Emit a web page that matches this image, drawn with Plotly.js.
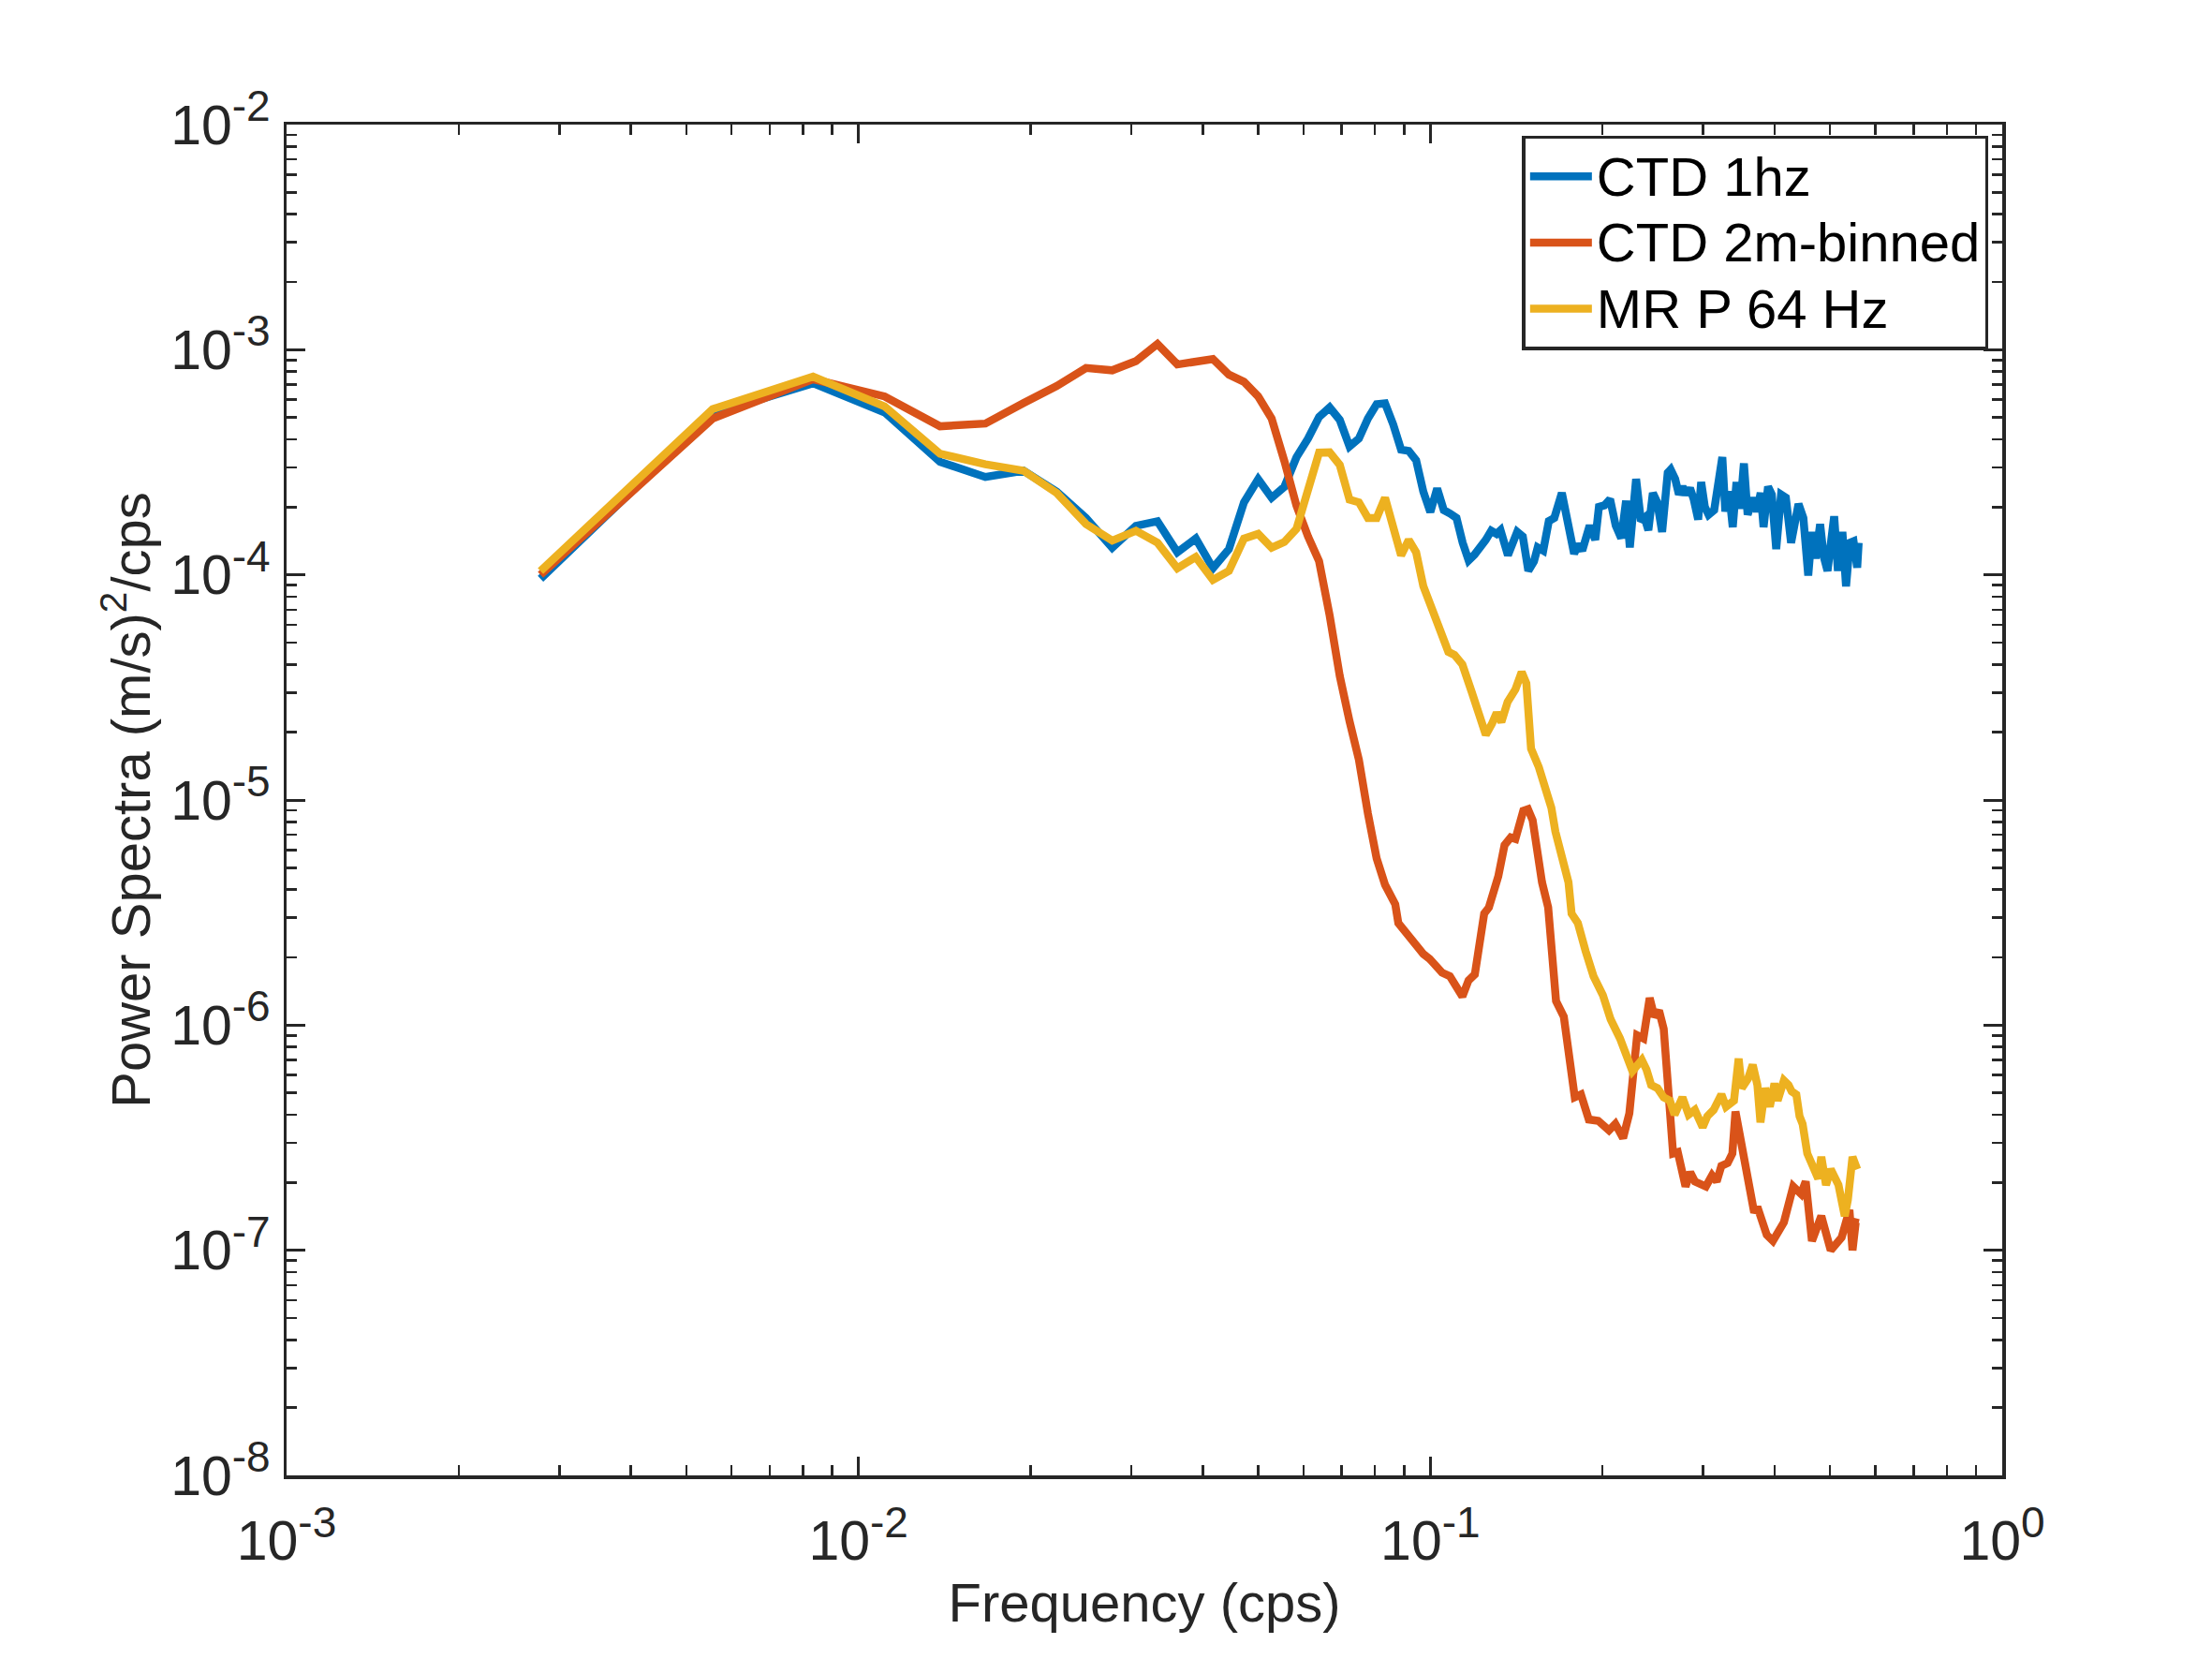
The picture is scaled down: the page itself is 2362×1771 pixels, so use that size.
<!DOCTYPE html>
<html>
<head>
<meta charset="utf-8">
<script src="https://cdn.plot.ly/plotly-3.0.1.min.js"></script>
<style>
	html, body { margin: 0; padding: 0; background: #fff; }
	#chart { width: 2362px; height: 1771px; }
</style>
</head>
<body>
<div id="chart"></div>
<script>
// frequency bins (cps) shared by the low-frequency end of all three spectra
const bin_freq = [0.00278, 0.00556, 0.00833, 0.01111, 0.01389, 0.01667, 0.01944, 0.02222, 0.02500, 0.02778,
	0.03056, 0.03333, 0.03611, 0.03889, 0.04167, 0.04444, 0.04722, 0.05000, 0.05278, 0.05556,
	0.05833, 0.06111, 0.06389, 0.06667, 0.06944, 0.07222, 0.07500, 0.07778, 0.08056, 0.08333,
	0.08611, 0.08889, 0.09167, 0.09444, 0.09722, 0.10000, 0.10278, 0.10556, 0.10833, 0.11111,
	0.11389, 0.11667, 0.11944, 0.12222, 0.12500, 0.12778, 0.13056];

// CTD 1hz
const ctd1_low = [9.6e-5, 5.2e-4, 7.1e-4, 5.27e-4, 3.18e-4, 2.72e-4, 2.9e-4, 2.34e-4, 1.79e-4, 1.32e-4,
	1.65e-4, 1.73e-4, 1.26e-4, 1.45e-4, 1.07e-4, 1.3e-4, 2.1e-4, 2.66e-4, 2.2e-4, 2.46e-4,
	3.33e-4, 4.03e-4, 5.03e-4, 5.54e-4, 4.88e-4, 3.72e-4, 4.03e-4, 4.95e-4, 5.73e-4, 5.78e-4,
	4.66e-4, 3.6e-4, 3.55e-4, 3.23e-4, 2.34e-4, 1.9e-4, 2.42e-4, 1.94e-4, 1.87e-4, 1.79e-4,
	1.39e-4, 1.16e-4, 1.23e-4, 1.32e-4, 1.43e-4, 1.57e-4, 1.52e-4];
const ctd1_high_f = [0.13266, 0.13667, 0.14186, 0.14511, 0.14838, 0.15177, 0.15407, 0.15754, 0.16113, 0.16475,
	0.16980, 0.17362, 0.17840, 0.18159, 0.18435, 0.18993, 0.19427, 0.19715, 0.20165, 0.20620,
	0.21091, 0.21566, 0.21992, 0.22327, 0.22898, 0.23350, 0.23696, 0.24056, 0.24496, 0.24934,
	0.25426, 0.26009, 0.26315, 0.26796, 0.27203, 0.27606, 0.28024, 0.28450, 0.28872, 0.29398,
	0.29756, 0.30198, 0.30656, 0.31357, 0.32402, 0.32796, 0.33282, 0.33791, 0.34304, 0.34813,
	0.35342, 0.35879, 0.36686, 0.37242, 0.37809, 0.38255, 0.38953, 0.39543, 0.40252, 0.41048,
	0.41845, 0.42738, 0.43258, 0.44032, 0.44904, 0.45792, 0.46468, 0.47177, 0.48037, 0.48750,
	0.49488, 0.50240, 0.50830, 0.51603, 0.52545, 0.53322, 0.54134, 0.54955, 0.55772, 0.561];
const ctd1_high_p = [1.578e-4, 1.222e-4, 1.552e-4, 1.479e-4, 1.042e-4, 1.146e-4, 1.324e-4, 1.282e-4, 1.734e-4, 1.791e-4,
	2.312e-4, 1.734e-4, 1.242e-4, 1.368e-4, 1.282e-4, 1.656e-4, 1.432e-4, 2.004e-4, 2.037e-4, 2.168e-4,
	1.656e-4, 1.455e-4, 2.133e-4, 1.324e-4, 2.667e-4, 1.734e-4, 1.791e-4, 1.578e-4, 2.312e-4, 2.099e-4,
	1.552e-4, 2.844e-4, 2.938e-4, 2.667e-4, 2.275e-4, 2.466e-4, 2.275e-4, 2.427e-4, 2.168e-4, 1.762e-4,
	2.582e-4, 2.004e-4, 1.849e-4, 1.941e-4, 3.334e-4, 1.910e-4, 2.350e-4, 1.629e-4, 2.582e-4, 1.972e-4,
	3.126e-4, 1.849e-4, 2.203e-4, 1.910e-4, 2.312e-4, 1.629e-4, 2.466e-4, 2.275e-4, 1.303e-4, 2.275e-4,
	2.203e-4, 1.387e-4, 1.578e-4, 2.065e-4, 1.791e-4, 9.93e-5, 1.552e-4, 1.183e-4, 1.679e-4, 1.202e-4,
	1.042e-4, 1.409e-4, 1.820e-4, 1.042e-4, 1.552e-4, 8.89e-5, 1.387e-4, 1.409e-4, 1.076e-4, 1.387e-4];

// CTD 2m-binned
const ctd2_low = [1.0e-4, 4.95e-4, 7.4e-4, 6.2e-4, 4.57e-4, 4.7e-4, 5.8e-4, 6.9e-4, 8.3e-4, 8.1e-4,
	8.9e-4, 1.06e-3, 8.6e-4, 8.9e-4, 9.1e-4, 7.75e-4, 7.2e-4, 6.2e-4, 4.95e-4, 3.2e-4,
	2.03e-4, 1.48e-4, 1.15e-4, 6.6e-5, 3.55e-5, 2.24e-5, 1.51e-5, 8.7e-6, 5.5e-6, 4.2e-6];
const ctd2_high_f = [0.08683, 0.08791, 0.09129, 0.09722, 0.09971, 0.10483, 0.10817, 0.11377, 0.11663, 0.11962,
	0.12421, 0.12657, 0.13146, 0.13482, 0.13822, 0.14085, 0.14538, 0.14816, 0.15097, 0.15285,
	0.15677, 0.16071, 0.16588, 0.17115, 0.17888, 0.18339, 0.18928, 0.19655, 0.20533, 0.21059,
	0.21729, 0.22283, 0.22707, 0.22994, 0.23580, 0.24184, 0.24644, 0.25114, 0.25591, 0.25910,
	0.26574, 0.27081, 0.27940, 0.28472, 0.29013, 0.30323, 0.31086, 0.31678, 0.32282, 0.33103,
	0.33740, 0.34162, 0.34813, 0.35700, 0.36382, 0.36837, 0.37313, 0.38747, 0.39722, 0.41515,
	0.43107, 0.44480, 0.45327, 0.46484, 0.48269, 0.50126, 0.52387, 0.54050, 0.54729, 0.55437, 0.561];
const ctd2_high_p = [3.44e-6, 2.84e-6, 2.50e-6, 2.07e-6, 1.97e-6, 1.71e-6, 1.65e-6, 1.34e-6, 1.58e-6, 1.68e-6,
	3.13e-6, 3.33e-6, 4.58e-6, 6.31e-6, 6.82e-6, 6.71e-6, 8.95e-6, 9.10e-6, 8.13e-6, 6.50e-6,
	4.31e-6, 3.33e-6, 1.28e-6, 1.09e-6, 4.78e-7, 4.92e-7, 3.81e-7, 3.76e-7, 3.41e-7, 3.64e-7,
	3.15e-7, 4.06e-7, 6.56e-7, 9.02e-7, 8.73e-7, 1.32e-6, 1.09e-6, 1.16e-6, 9.61e-7, 5.97e-7,
	2.69e-7, 2.73e-7, 1.92e-7, 2.22e-7, 2.02e-7, 1.92e-7, 2.15e-7, 2.02e-7, 2.37e-7, 2.44e-7,
	2.69e-7, 4.13e-7, 3.15e-7, 2.37e-7, 1.78e-7, 1.47e-7, 1.56e-7, 1.17e-7, 1.10e-7, 1.33e-7,
	1.92e-7, 1.78e-7, 2.02e-7, 1.10e-7, 1.42e-7, 1.0e-7, 1.14e-7, 1.51e-7, 1.0e-7, 1.33e-7, 1.32e-7];

// MR P 64 Hz
const mr_low = [1.04e-4, 5.45e-4, 7.6e-4, 5.6e-4, 3.45e-4, 3.1e-4, 2.9e-4, 2.31e-4, 1.68e-4, 1.42e-4,
	1.57e-4, 1.39e-4, 1.07e-4, 1.2e-4, 9.5e-5, 1.04e-4, 1.45e-4, 1.52e-4, 1.32e-4, 1.4e-4,
	1.6e-4, 2.31e-4, 3.49e-4, 3.5e-4, 3.08e-4, 2.16e-4, 2.1e-4, 1.79e-4, 1.79e-4, 2.2e-4,
	1.57e-4, 1.22e-4, 1.43e-4, 1.26e-4, 8.9e-5, 7.3e-5];
const mr_high_f = [0.10287, 0.10752, 0.11022, 0.11377, 0.11815, 0.12189, 0.12502, 0.12816, 0.13061, 0.13311,
	0.13651, 0.14085, 0.14445, 0.14720, 0.14905, 0.15000, 0.15477, 0.15872, 0.16278, 0.16544,
	0.17115, 0.17440, 0.17659, 0.18110, 0.18686, 0.19288, 0.20030, 0.20666, 0.21459, 0.22009,
	0.22563, 0.23430, 0.23876, 0.24330, 0.24952, 0.25591, 0.26236, 0.26736, 0.27594, 0.28290,
	0.29013, 0.29935, 0.30505, 0.31284, 0.32282, 0.32894, 0.33957, 0.34603, 0.35036, 0.35933,
	0.36618, 0.37313, 0.37779, 0.38497, 0.39230, 0.39975, 0.40482, 0.41515, 0.42304, 0.42835,
	0.43649, 0.44215, 0.44765, 0.45617, 0.47678, 0.48269, 0.49190, 0.50126, 0.51720, 0.53042,
	0.53706, 0.54729, 0.55772];
const mr_high_p = [5.87e-5, 4.55e-5, 4.41e-5, 4.0e-5, 3.01e-5, 2.33e-5, 1.95e-5, 2.18e-5, 2.44e-5, 2.22e-5,
	2.73e-5, 3.10e-5, 3.70e-5, 3.30e-5, 2.33e-5, 1.69e-5, 1.40e-5, 1.12e-5, 9.25e-6, 7.24e-6,
	4.89e-6, 4.31e-6, 3.13e-6, 2.84e-6, 2.13e-6, 1.65e-6, 1.36e-6, 1.06e-6, 8.73e-7, 7.21e-7,
	6.25e-7, 7.0e-7, 6.35e-7, 5.42e-7, 5.25e-7, 4.78e-7, 4.62e-7, 4.0e-7, 4.78e-7, 4.0e-7,
	4.2e-7, 3.52e-7, 3.94e-7, 4.2e-7, 4.92e-7, 4.34e-7, 4.62e-7, 7.10e-7, 5.25e-7, 5.78e-7,
	6.67e-7, 5.42e-7, 3.70e-7, 5.25e-7, 4.34e-7, 5.51e-7, 4.62e-7, 5.68e-7, 5.42e-7, 5.08e-7,
	4.92e-7, 3.94e-7, 3.64e-7, 2.69e-7, 2.08e-7, 2.60e-7, 1.95e-7, 2.29e-7, 1.95e-7, 1.42e-7,
	1.67e-7, 2.60e-7, 2.29e-7];

const series_names = ["CTD 1hz", "CTD 2m-binned", "MR P 64 Hz"];
const series_colors = ["#0072BD", "#D95319", "#EDB120"];

// axis ticks, matlab style: decade labels with a larger superscript
const sup = e => `10<sup><span style="font-size:46px">${e}</span></sup>`;
const x_tickvals = [0.001, 0.01, 0.1, 1];
const x_ticktext = ["-3", "-2", "-1", "0"].map(sup);
const y_tickvals = [1e-8, 1e-7, 1e-6, 1e-5, 1e-4, 1e-3, 1e-2];
const y_ticktext = ["-8", "-7", "-6", "-5", "-4", "-3", "-2"].map(sup);
const digits = [2, 3, 4, 5, 6, 7, 8, 9];
const x_minor = [1e-3, 1e-2, 1e-1].flatMap(d => digits.map(k => k * d));
const y_minor = [1e-8, 1e-7, 1e-6, 1e-5, 1e-4, 1e-3].flatMap(d => digits.map(k => k * d));

const font_family = '"Liberation Sans", Arial, Helvetica, sans-serif';
const ink = '#262626';

const chart_data = [
	{x: bin_freq.slice(0, ctd1_low.length).concat(ctd1_high_f), y: ctd1_low.concat(ctd1_high_p)},
	{x: bin_freq.slice(0, ctd2_low.length).concat(ctd2_high_f), y: ctd2_low.concat(ctd2_high_p)},
	{x: bin_freq.slice(0, mr_low.length).concat(mr_high_f), y: mr_low.concat(mr_high_p)}
].map((s, i) => ({
	// legend rows are spaced from legend.font, the label itself is drawn a bit larger
	name: `<span style="font-size:58px">${series_names[i]}</span>`,
	x: s.x,
	y: s.y,
	type: 'scatter',
	mode: 'lines',
	line: {color: series_colors[i], width: 8.5}
}));

function axis_layout(range, tickvals, ticktext, minor_vals, title) {
	return {
		type: 'log',
		range: range,
		tickmode: 'array',
		tickvals: tickvals,
		ticktext: ticktext,
		ticks: 'inside',
		ticklen: 20,
		tickwidth: 3,
		tickcolor: ink,
		showline: true,
		linewidth: 3.5,
		linecolor: ink,
		mirror: 'ticks',
		showgrid: false,
		zeroline: false,
		tickfont: {family: font_family, size: 59, color: ink},
		minor: {
			tickmode: 'array',
			tickvals: minor_vals,
			ticks: 'inside',
			ticklen: 11,
			tickwidth: 2.5,
			tickcolor: ink,
			showgrid: false
		},
		title: {
			text: title,
			font: {family: font_family, size: 58, color: ink}
		}
	};
}

const x_axis = axis_layout([-3, 0], x_tickvals, x_ticktext, x_minor, 'Frequency (cps)');
x_axis.ticklabelstandoff = 16;
x_axis.title.standoff = 14;
const y_axis = axis_layout([-8, -2], y_tickvals, y_ticktext, y_minor, 'Power Spectra (m/s)<sup>2</sup>/cps');
y_axis.ticklabelstandoff = 2;
y_axis.title.standoff = 4;

const chart_layout = {
	width: 2362,
	height: 1771,
	paper_bgcolor: '#ffffff',
	plot_bgcolor: '#ffffff',
	margin: {l: 306, r: 224, t: 133, b: 196, pad: 0},
	xaxis: x_axis,
	yaxis: y_axis,
	showlegend: true,
	legend: {
		x: 0.992,
		y: 0.992,
		xanchor: 'right',
		yanchor: 'top',
		bgcolor: '#ffffff',
		bordercolor: ink,
		borderwidth: 3.5,
		itemwidth: 66,
		font: {family: font_family, size: 52, color: '#000000'},
		tracegroupgap: 0
	}
};

Plotly.newPlot('chart', chart_data, chart_layout, {displayModeBar: false, staticPlot: true});
</script>
</body>
</html>
